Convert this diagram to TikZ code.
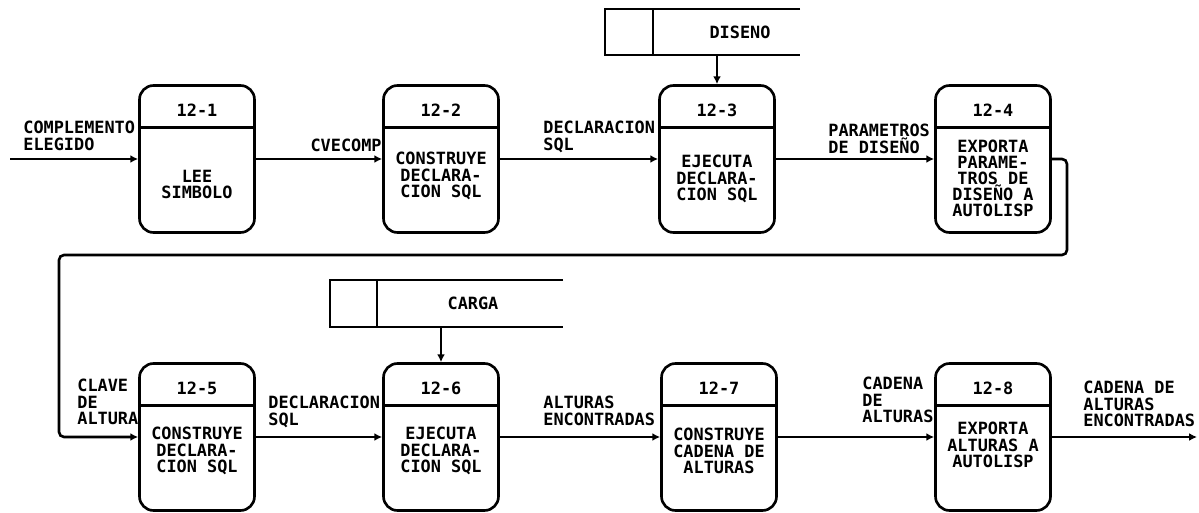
\documentclass[tikz,border=0pt]{standalone}
\usepackage{fontspec}
\newfontfamily\plotter{DejaVu Sans Mono}
\usetikzlibrary{arrows.meta, calc}

\begin{document}
\begin{tikzpicture}[x=0.02cm, y=-0.02cm,
        font=\plotter\bfseries\fontsize{9.6}{9.2}\selectfont,
        linea/.style={line width=1.5pt},
        proc/.style={linea, draw, rounded corners=0.28cm, minimum width=2.3cm,
            minimum height=2.94cm, inner sep=0pt,
            path picture={\draw[linea] ($(path picture bounding box.north west)+(0,-0.84cm)$)
                -- ($(path picture bounding box.north east)+(0,-0.84cm)$);}},
        idn/.style={anchor=center, yshift=-0.52cm, inner sep=0pt},
        desc/.style={align=center, inner sep=0pt},
        dato/.style={align=left, anchor=north west, inner sep=0pt},
        alm/.style={minimum height=0.92cm, inner sep=0pt},
        fl/.style={linea, -{Latex[length=4.5pt, width=4.5pt]}}]
    \useasboundingbox (0,0) rectangle (1199,513);
    % procesos
    \node[proc, label={[idn]north:12-1}] (p1) at (197,159) {};
    \node[proc, label={[idn]north:12-2}] (p2) at (441,159) {};
    \node[proc, label={[idn]north:12-3}] (p3) at (717,159) {};
    \node[proc, label={[idn]north:12-4}] (p4) at (993,159) {};
    \node[proc, label={[idn]north:12-5}] (p5) at (197,437) {};
    \node[proc, label={[idn]north:12-6}] (p6) at (441,437) {};
    \node[proc, label={[idn]north:12-7}] (p7) at (719,437) {};
    \node[proc, label={[idn]north:12-8}] (p8) at (993,437) {};
    \node[desc] (t1) at (197,184.5) {LEE\\SIMBOLO};
    \node[desc] (t2) at (441,176) {CONSTRUYE\\DECLARA-\\CION SQL};
    \node[desc] (t3) at (717,179) {EJECUTA\\DECLARA-\\CION SQL};
    \node[desc] (t4) at (993,178.5) {EXPORTA\\PARAME-\\TROS DE\\DISEÑO A\\AUTOLISP};
    \node[desc] (t5) at (197,451) {CONSTRUYE\\DECLARA-\\CION SQL};
    \node[desc] (t6) at (441,451) {EJECUTA\\DECLARA-\\CION SQL};
    \node[desc] (t7) at (719,451) {CONSTRUYE\\CADENA DE\\ALTURAS};
    \node[desc] (t8) at (993,445) {EXPORTA\\ALTURAS A\\AUTOLISP};
    % almacenes
    \node[alm] (s1) at (740,32) {DISENO};
    \draw[linea] (800,9) -- (605,9) -- (605,55) -- (800,55) (653,9) -- (653,55);
    \node[alm] (s2) at (473,303.5) {CARGA};
    \draw[linea] (563,280) -- (330,280) -- (330,327) -- (563,327) (377,280) -- (377,327);
    % flujos
    \node[dato] (l1) at (23,121) {COMPLEMENTO\\ELEGIDO};
    \node[dato, anchor=north east] (l2) at (382,139) {CVECOMP};
    \node[dato] (l3) at (543,121) {DECLARACION\\SQL};
    \node[dato] (l4) at (828,124) {PARAMETROS\\DE DISEÑO};
    \node[dato] (l5) at (77,379) {CLAVE\\DE\\ALTURA};
    \node[dato] (l6) at (268,396) {DECLARACION\\SQL};
    \node[dato] (l7) at (543,396) {ALTURAS\\ENCONTRADAS};
    \node[dato] (l8) at (862,377) {CADENA\\DE\\ALTURAS};
    \node[dato] (l9) at (1083,381) {CADENA DE\\ALTURAS\\ENCONTRADAS};
    \coordinate (ent) at (10,159);
    \coordinate (sal) at (1197,437);
    \foreach \a/\b in {ent/p1, p1/p2, p2/p3, p3/p4, p5/p6, p6/p7, p7/p8, p8/sal}
        \draw[fl] (\a) -- (\b);
    \draw[fl, rounded corners=0.1cm] (p4.east) -| (1067,255) -| (59,437) -- (p5.west);
    \draw[fl] (s1.south -| p3.north) -- (p3.north);
    \draw[fl] (s2.south -| p6.north) -- (p6.north);
\end{tikzpicture}
\end{document}
